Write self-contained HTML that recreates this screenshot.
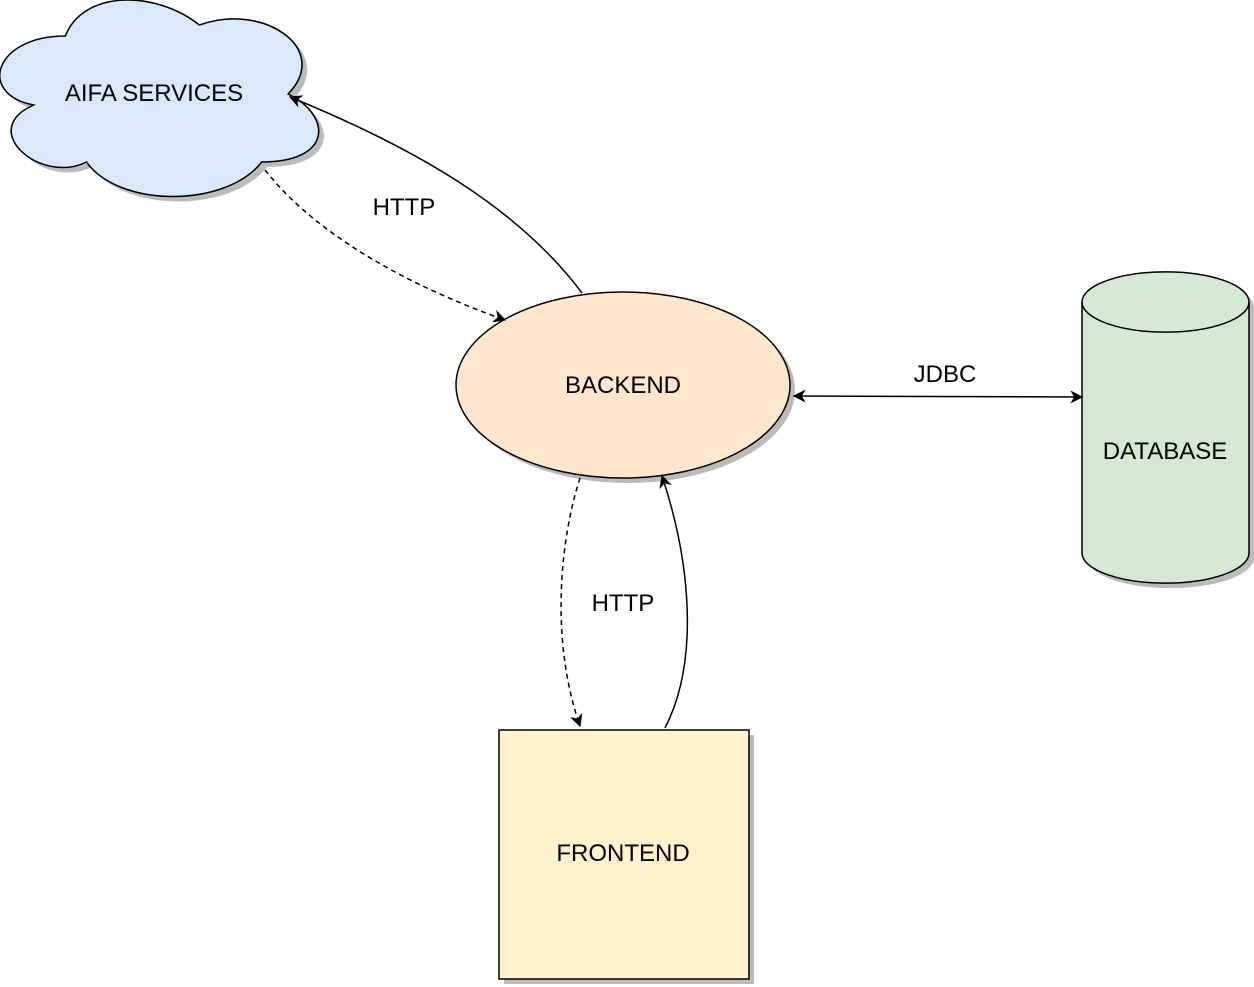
<!DOCTYPE html>
<html><head><style>body{margin:0;background:#fff}svg{display:block}text{font-family:"Liberation Sans",Helvetica,sans-serif;font-size:24px;fill:#000}</style></head>
<body>
<svg width="1254" height="987" viewBox="0 0 1254 987" xmlns="http://www.w3.org/2000/svg">
<defs>
<marker id="a" viewBox="0 0 10 10" refX="9" refY="5" markerWidth="13" markerHeight="13" orient="auto-start-reverse" markerUnits="userSpaceOnUse"><path d="M0,0 L10,5 L0,10 L3,5 Z" fill="#000"/></marker>
</defs>
<g transform="translate(-16,0) scale(1.056,1)">
<g transform="translate(-7,-21)">
<path transform="translate(5,5)" fill="#bbb" d="M84,57 C17,57 0,115 54,126 C0,151 61,206 104,183 C135,229 236,229 270,183 C337,183 337,137 295,115 C337,69 270,23 211,46 C169,11 101,11 84,57 Z"/>
<path fill="#dae8fc" stroke="#000" stroke-width="1.5" d="M84,57 C17,57 0,115 54,126 C0,151 61,206 104,183 C135,229 236,229 270,183 C337,183 337,137 295,115 C337,69 270,23 211,46 C169,11 101,11 84,57 Z"/>
</g>
</g>
<text x="154" y="101" text-anchor="middle">AIFA SERVICES</text>
<ellipse cx="628" cy="390" rx="167" ry="93" fill="#bbb"/>
<ellipse cx="623" cy="385" rx="167" ry="93" fill="#ffe6cc" stroke="#000" stroke-width="1.5"/>
<text x="623" y="393" text-anchor="middle">BACKEND</text>
<path transform="translate(5,5)" fill="#bbb" d="M1082,302 A83,30 0 0 1 1249,302 L1249,553 A83,30 0 0 1 1082,553 Z"/>
<path fill="#d5e8d4" stroke="#000" stroke-width="1.5" d="M1082,302 A83,30 0 0 1 1249,302 L1249,553 A83,30 0 0 1 1082,553 Z"/>
<path fill="none" stroke="#000" stroke-width="1.5" d="M1082,302 A83,30 0 0 0 1249,302"/>
<text x="1165" y="459" text-anchor="middle">DATABASE</text>
<rect x="504" y="735" width="250" height="249" fill="#bbb"/>
<rect x="499" y="730" width="250" height="249" fill="#fff2cc" stroke="#000" stroke-width="1.5"/>
<text x="623" y="861" text-anchor="middle">FRONTEND</text>
<path d="M582,293 C520,210 420,150 290,97" fill="none" stroke="#000" stroke-width="1.5" marker-end="url(#a)"/>
<path d="M265,170 C320,240 420,290 505,320" fill="none" stroke="#000" stroke-width="1.5" stroke-dasharray="5,4" marker-end="url(#a)"/>
<path d="M580,478 C560,540 550,640 580,726" fill="none" stroke="#000" stroke-width="1.5" stroke-dasharray="5,4" marker-end="url(#a)"/>
<path d="M665,728 C700,660 690,560 662,476" fill="none" stroke="#000" stroke-width="1.5" marker-end="url(#a)"/>
<path d="M794,396 L1082,397" fill="none" stroke="#000" stroke-width="1.5" marker-start="url(#a)" marker-end="url(#a)"/>
<text x="404" y="215" text-anchor="middle">HTTP</text>
<text x="623" y="611" text-anchor="middle">HTTP</text>
<text x="945" y="382" text-anchor="middle">JDBC</text>
</svg>
</body></html>
